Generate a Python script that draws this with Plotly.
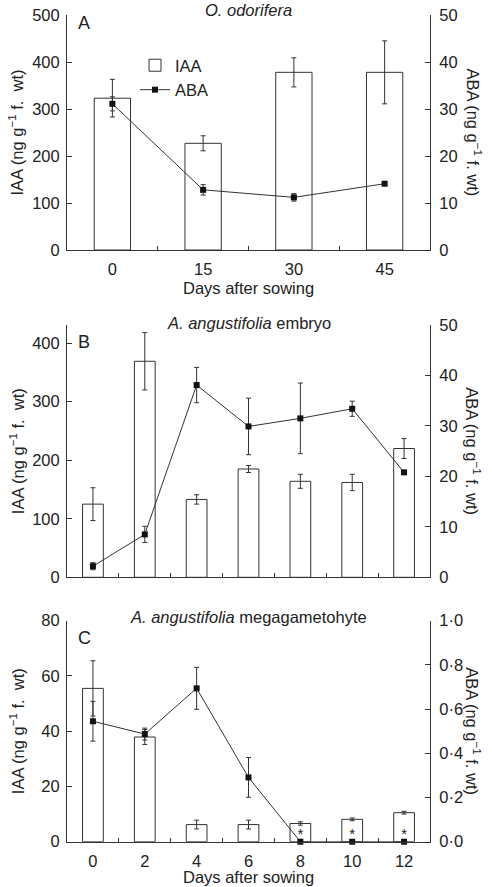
import plotly.graph_objects as go

# ---------------- data ----------------
days_A = ["0", "15", "30", "45"]
iaa_A = [323, 227, 378, 378]
iaa_A_err = [40, 16, 31, 67]
aba_A = [31.1, 12.8, 11.2, 14.1]
aba_A_err = [1.5, 1.1, 0.8, 0]

days_BC = ["0", "2", "4", "6", "8", "10", "12"]
iaa_B = [125, 369, 133, 185, 164, 162, 220]
iaa_B_err = [28, 49, 8, 6, 12, 14, 17]
aba_B = [2.2, 8.5, 38.1, 29.9, 31.5, 33.4, 20.8]
aba_B_err = [0.7, 1.6, 3.5, 5.6, 7.0, 1.5, 0]

iaa_C = [55.5, 37.9, 6.2, 6.2, 6.6, 8.1, 10.5]
iaa_C_err = [10, 2.7, 1.6, 1.6, 0.6, 0.5, 0.5]
aba_C = [0.545, 0.487, 0.694, 0.291, 0, 0, 0]
aba_C_err = [0.09, 0.027, 0.095, 0.09, 0, 0, 0]
star_days = ["8", "10", "12"]

aba_C_ticks = [0, 0.2, 0.4, 0.6, 0.8, 1.0]
aba_C_ticktext = ["0·0", "0·2", "0·4", "0·6", "0·8", "1·0"]

# ---------------- style ----------------
W, H = 492, 887
INK = "#222222"
LINE = "#333333"
FONT = "Liberation Sans, Arial, sans-serif"
FS = 16.5

def px_x(p):
    return p / W

def px_y(p):
    return 1 - p / H

xdom = [px_x(67), px_x(430)]
panels = {
    "A": (15, 250),
    "B": (325, 577.3),
    "C": (620.7, 841.7),
}

fig = go.Figure()

def bar(x, y, err, xa, ya, show):
    fig.add_trace(go.Bar(
        x=x, y=y, xaxis=xa, yaxis=ya, name="IAA", showlegend=show,
        width=0.4,
        marker=dict(color="white", line=dict(color=LINE, width=1)),
        error_y=dict(type="data", array=err, color=LINE, thickness=1, width=2.5),
    ))

def line(x, y, err, xa, ya, show):
    fig.add_trace(go.Scatter(
        x=x, y=y, xaxis=xa, yaxis=ya, name="ABA", showlegend=show,
        mode="lines+markers",
        line=dict(color=LINE, width=1),
        marker=dict(symbol="square", size=6, color="#111111"),
        error_y=dict(type="data", array=err, color=LINE, thickness=1, width=2.5),
        cliponaxis=False,
    ))

bar(days_A, iaa_A, iaa_A_err, "x", "y", True)
line(days_A, aba_A, aba_A_err, "x", "y2", True)
bar(days_BC, iaa_B, iaa_B_err, "x2", "y3", False)
line(days_BC, aba_B, aba_B_err, "x2", "y4", False)
bar(days_BC, iaa_C, iaa_C_err, "x3", "y5", False)
line(days_BC, aba_C, aba_C_err, "x3", "y6", False)

# asterisks (no ABA detected)
fig.add_trace(go.Scatter(
    x=star_days, y=[2.2] * len(star_days), xaxis="x3", yaxis="y5",
    mode="text", text=["*"] * len(star_days), showlegend=False,
    textfont=dict(family=FONT, size=15, color=INK), textposition="middle center",
    cliponaxis=False,
))

axis_common = dict(
    showline=True, linecolor=LINE, linewidth=1, ticks="inside", ticklen=5,
    tickcolor=LINE, showgrid=False, zeroline=False, automargin=False,
    tickfont=dict(family=FONT, size=FS, color=INK),
)

layout = dict(
    width=W, height=H, margin=dict(l=0, r=0, t=0, b=0, autoexpand=False),
    template="none",
    paper_bgcolor="white", plot_bgcolor="white",
    showlegend=True,
    font=dict(family=FONT, size=FS, color=INK),
    legend=dict(x=px_x(135), y=px_y(48), xanchor="left", yanchor="top",
                bgcolor="rgba(0,0,0,0)", borderwidth=0,
                font=dict(family=FONT, size=FS, color=INK),
                tracegroupgap=0, itemwidth=30),
)

xmap = {"A": ("xaxis", "x", "y"), "B": ("xaxis2", "x2", "y3"), "C": ("xaxis3", "x3", "y5")}
ymap = {"A": ("yaxis", "yaxis2", "y"), "B": ("yaxis3", "yaxis4", "y3"), "C": ("yaxis5", "yaxis6", "y5")}

for key, (top, bot) in panels.items():
    ydom = [px_y(bot), px_y(top)]
    xk, xname, yanchor = xmap[key]
    cats = days_A if key == "A" else days_BC
    layout[xk] = dict(axis_common, domain=xdom, anchor=yanchor, type="category",
                      categoryorder="array", categoryarray=cats, ticklen=4,
                      range=[-0.5, len(cats) - 0.5], tickson="boundaries",
                      showticklabels=(key != "B"), ticklabelstandoff=4)
    lk, rk, lname = ymap[key]
    layout[lk] = dict(axis_common, domain=ydom, anchor=xname, ticklabelstandoff=3)
    layout[rk] = dict(axis_common, overlaying=lname, side="right", anchor=xname,
                      ticklabelstandoff=5)

layout["yaxis"].update(range=[0, 500], dtick=100)
layout["yaxis2"].update(range=[0, 50], dtick=10)
layout["yaxis3"].update(range=[0, 431], tickvals=[0, 100, 200, 300, 400])
layout["yaxis4"].update(range=[0, 50], dtick=10)
layout["yaxis5"].update(range=[0, 80], dtick=20)
layout["yaxis6"].update(range=[0, 1.0], tickvals=aba_C_ticks, ticktext=aba_C_ticktext)

fig.update_layout(**layout)

ann = []
def text(x, y, s, **kw):
    d = dict(xref="paper", yref="paper", x=px_x(x), y=px_y(y), text=s, showarrow=False,
             font=dict(family=FONT, size=FS, color=INK), xanchor="center", yanchor="middle")
    d.update(kw)
    ann.append(d)

iaa_t = "IAA (ng g<sup>−1</sup> f.  wt)"
aba_t = "ABA (ng g<sup>−1</sup> f. wt)"
titles = {"A": "<i>O. odorifera</i>", "B": "<i>A. angustifolia</i> embryo",
          "C": "<i>A. angustifolia</i> megagametohyte"}
title_y = {"A": 10, "B": 323, "C": 617}
letter_y = {"A": 23, "B": 342, "C": 638}
for key, (top, bot) in panels.items():
    mid = (top + bot) / 2
    text(17, mid, iaa_t, textangle=-90)
    text(473, mid, aba_t, textangle=90)
    text(248.5, title_y[key], titles[key])
    text(84, letter_y[key], key, font=dict(family=FONT, size=18, color=INK))

text(248.5, 288, "Days after sowing")
text(248.5, 877, "Days after sowing")

fig.update_layout(annotations=ann)
fig.write_html(
    "out.html",
    config={"displayModeBar": False},
    post_script="document.body.style.margin='0px';document.body.style.overflow='hidden';",
)
